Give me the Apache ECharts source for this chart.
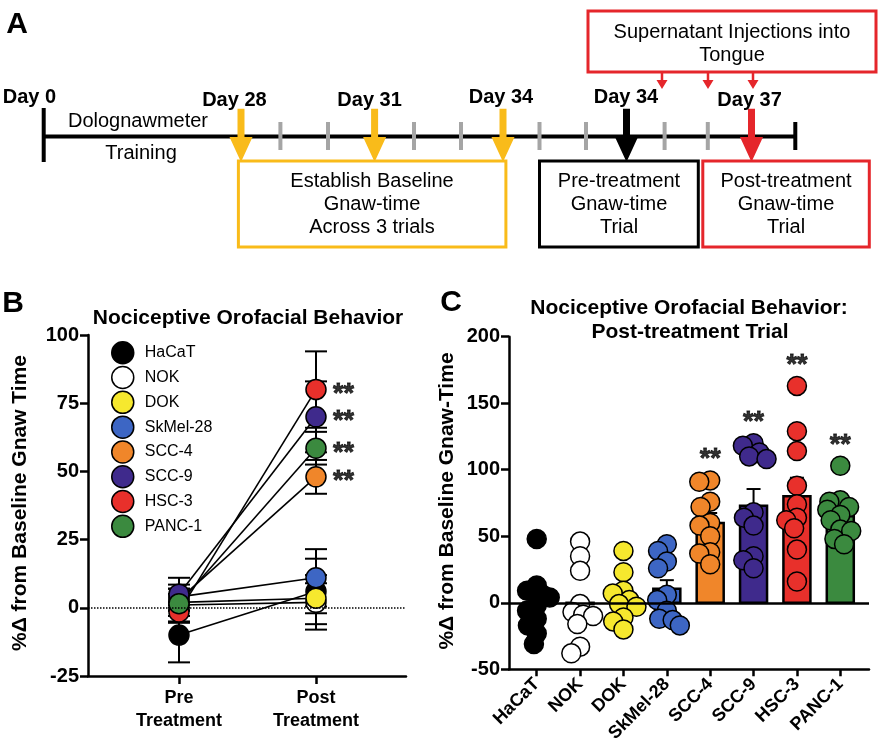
<!DOCTYPE html>
<html><head><meta charset="utf-8">
<script src="https://cdn.jsdelivr.net/npm/echarts@6/dist/echarts.min.js"></script>
<style>html,body{margin:0;padding:0;background:#fff}#c{width:879px;height:747px}</style>
</head><body><div id="c"></div>
<script>
// ---------- DATA ----------
const categories = ['HaCaT','NOK','DOK','SkMel-28','SCC-4','SCC-9','HSC-3','PANC-1'];
const fills = ['#000000','#ffffff','#f6e82e','#3d66c4','#f0862a','#3f2a8c','#e8302b','#3b8a3f'];
// Panel B (mean, SEM)
const preMean  = [-10, 1, 2, 4, 3, 5, -1.5, 1.5];
const preSem   = [10, 4, 3, 3, 4, 6, 3.5, 7];
const postMean = [6, 2, 3.5, 11, 48, 70, 80, 58.5];
const postSem  = [12, 10, 5.5, 10.5, 6.2, 13, 14, 6];
const significant = [false,false,false,false,true,true,true,true];
const bTimeLabels = ['Pre\nTreatment','Post\nTreatment'];
const bYTicks = [-25, 100, 25];
// Panel C (individual animals, mean, SEM)
const dotsHaCaT = [48, 13, 9, 6, 4, -2, -6, -12, -17, -23, -31];
const dotsNOK   = [46, 35, 24, -1, -7, -9, -10, -16, -33, -38];
const dotsDOK   = [39, 23, 9, 7, 2, -1, -3, -11, -14, -20];
const dotsSkMel = [44, 39, 31, 26, 6, 2, -6, -12, -13, -17];
const dotsSCC4  = [92, 91, 76, 72, 60, 58, 50, 38, 37, 29];
const dotsSCC9  = [120, 118, 113, 110, 108, 68, 64, 58, 35, 32, 26];
const dotsHSC3  = [163, 129, 114, 88, 74, 64, 62, 56, 40, 16];
const dotsPANC1 = [103, 77, 76, 72, 70, 66, 62, 55, 54, 48, 44];
const cMean = [-1, -1, 3, 10.5, 60, 73, 80, 65];
const cSem  = [7, 9, 6, 6.5, 7.5, 12.5, 14, 5];
const cYTicks = [-50, 200, 50];
// Panel A timeline text
const dayLabels = ['Day 0','Day 28','Day 31','Day 34','Day 34','Day 37'];
const boxTexts = [['Establish Baseline','Gnaw-time','Across 3 trials'],['Pre-treatment','Gnaw-time','Trial'],['Post-treatment','Gnaw-time','Trial']];
const injectionText = ['Supernatant Injections into','Tongue'];
const trainingText = ['Dolognawmeter','Training'];

// ---------- LAYOUT ----------
const FONT = "'Liberation Sans', Arial, Helvetica, sans-serif";
const allDots = [dotsHaCaT, dotsNOK, dotsDOK, dotsSkMel, dotsSCC4, dotsSCC9, dotsHSC3, dotsPANC1];
const C_PX_PER_CAT = 43.37, C_PX_PER_UNIT = 66.5/50, DOT = 19;

function swarm(values, minDist, maxOff){
  const placed = [], offs = [];
  values.forEach(v => {
    const y = v * C_PX_PER_UNIT;
    const cands = [0];
    placed.forEach(p => {
      const dy = Math.abs(p.y - y);
      if (dy < minDist) { const dx = Math.sqrt(minDist*minDist - dy*dy); cands.push(p.x + dx, p.x - dx); }
    });
    cands.sort((a,b) => Math.abs(a) - Math.abs(b) || a - b);
    let x = cands.find(c => placed.every(p => Math.hypot(p.x - c, p.y - y) >= minDist - 0.01));
    if (x === undefined) x = 0;
    x = Math.max(-maxOff, Math.min(maxOff, x));
    placed.push({x, y});
    offs.push(x / C_PX_PER_CAT);
  });
  return offs;
}

const chart = echarts.init(document.getElementById('c'), null, {renderer:'canvas'});

// Panel A graphics
const g = [];
const txt = (text, x, y, size, bold, extra) => Object.assign({type:'text', x, y, style:{text, fill:'#000', font:(bold?'bold ':'')+size+'px '+FONT, textAlign:'center', textVerticalAlign:'middle'}}, extra||{});
const lineEl = (x1,y1,x2,y2,color,w) => ({type:'line', shape:{x1,y1,x2,y2}, style:{stroke:color, lineWidth:w}});
const arrowEl = (x, yTop, yHead, yTip, sw, hw, color) => ({type:'polygon', shape:{points:[[x-sw/2,yTop],[x+sw/2,yTop],[x+sw/2,yHead],[x+hw/2,yHead],[x,yTip],[x-hw/2,yHead],[x-sw/2,yHead]]}, style:{fill:color}});
const rectEl = (x,y,w,h,color) => ({type:'rect', shape:{x,y,width:w,height:h}, style:{fill:'none', stroke:color, lineWidth:3}});
const YEL = '#f9bb1a', RED = '#e5262b', GRAY = '#a5a5a5';

g.push(txt('A', 17, 25, 30, true));
g.push(txt('B', 13, 304, 30, true));
g.push(txt('C', 451, 303, 30, true));
// injection box
g.push(rectEl(588, 11, 288, 61, RED));
g.push(txt(injectionText[0], 732, 32, 20, false));
g.push(txt(injectionText[1], 732, 55, 20, false));
[662, 708, 753].forEach(x => g.push(arrowEl(x, 72, 80, 89, 2.5, 11, RED)));
// timeline
g.push(lineEl(43.7, 136.5, 795.3, 136.5, '#000', 4));
g.push(lineEl(43.7, 108, 43.7, 162, '#000', 4));
g.push(lineEl(795.3, 122, 795.3, 150, '#000', 4));
[280.4, 328, 414, 461, 539.5, 586, 664.6, 707.8].forEach(x => g.push(lineEl(x, 122, x, 150, GRAY, 4)));
[241, 374.6, 503].forEach(x => g.push(arrowEl(x, 108.7, 137, 162, 7, 23, YEL)));
g.push(arrowEl(626.5, 108.7, 137, 162, 7, 23, '#000'));
g.push(arrowEl(751.5, 108.7, 137, 162, 7, 23, RED));
const dayX = [29.4, 234.4, 369.6, 501, 626, 749.6], dayY = [97, 100, 100, 97, 97, 100];
dayLabels.forEach((d,i) => g.push(txt(d, dayX[i], dayY[i], 20, true)));
g.push(txt(trainingText[0], 138, 121.5, 20, false));
g.push(txt(trainingText[1], 141, 153, 20, false));
// boxes
const boxes = [[238.4, 505.9, YEL, 372], [539.5, 698.3, '#000', 619], [702.8, 869.3, RED, 786]];
boxes.forEach((b,i) => {
  g.push(rectEl(b[0], 161, b[1]-b[0], 86, b[2]));
  boxTexts[i].forEach((t,j) => g.push(txt(t, b[3], 181.5 + j*23, 20, false)));
});
// titles
g.push(txt('Nociceptive Orofacial Behavior', 248, 318, 21, true));
g.push(txt('Nociceptive Orofacial Behavior:', 689, 308, 21, true));
g.push(txt('Post-treatment Trial', 690, 332, 21, true));
g.push(txt('%Δ from Baseline Gnaw Time', 20, 503, 21, true, {rotation: Math.PI/2}));
g.push(txt('%Δ from Baseline Gnaw-Time', 447, 501, 21, true, {rotation: Math.PI/2}));

const axisCommon = {
  axisLine:{show:true, onZero:false, lineStyle:{color:'#000', width:2.5}},
  splitLine:{show:false},
};
const yLabel = {color:'#000', fontWeight:'bold', fontSize:20, fontFamily:FONT, margin:9};
const starLabel = {show:true, formatter:'**', color:'#000', fontWeight:'bold', fontSize:27, fontFamily:FONT, textBorderColor:'#000', textBorderWidth:0.8};

function errRender(both, cw){
  return function(params, api){
    const x = api.value(0), m = api.value(1), s = api.value(2);
    const hi = (both || m >= 0) ? m + s : m;
    const lo = both ? m - s : (m >= 0 ? m : m - s);
    const a = api.coord([x, lo]), b = api.coord([x, hi]);
    const st = {stroke:'#000', lineWidth:2};
    const ch = [{type:'line', shape:{x1:a[0],y1:a[1],x2:b[0],y2:b[1]}, style:st}];
    if (both || m < 0) ch.push({type:'line', shape:{x1:a[0]-cw,y1:a[1],x2:a[0]+cw,y2:a[1]}, style:st});
    if (both || m >= 0) ch.push({type:'line', shape:{x1:b[0]-cw,y1:b[1],x2:b[0]+cw,y2:b[1]}, style:st});
    return {type:'group', children:ch};
  };
}

const series = [];
// Panel B: connecting lines
categories.forEach((c,i) => series.push({type:'line', xAxisIndex:0, yAxisIndex:0, data:[[0,preMean[i]],[1,postMean[i]]], showSymbol:false, symbol:'none', silent:true, lineStyle:{color:'#000', width:1.6}, z:1,
  markLine: i===0 ? {silent:true, symbol:'none', label:{show:false}, lineStyle:{type:'dotted', color:'#000', width:1.5}, data:[{yAxis:0}]} : undefined}));
// Panel B: error bars
const bErr = [];
categories.forEach((c,i) => { bErr.push([0, preMean[i], preSem[i]]); bErr.push([1, postMean[i], postSem[i]]); });
series.push({type:'custom', xAxisIndex:0, yAxisIndex:0, data:bErr, renderItem:errRender(true, 11), z:2, silent:true});
// Panel B: points
categories.forEach((c,i) => series.push({type:'scatter', name:c, xAxisIndex:0, yAxisIndex:0, data:[[0,preMean[i]],[1,postMean[i]]], symbolSize:20,
  itemStyle:{color:fills[i], borderColor:'#000', borderWidth:1.5, opacity:1}, z:3}));
// Panel B: stars
series.push({type:'scatter', xAxisIndex:0, yAxisIndex:0, symbolSize:0, silent:true, z:4,
  data: categories.map((c,i)=> significant[i] ? [1, postMean[i]] : null).filter(d=>d),
  label:Object.assign({position:'right', distance:17, offset:[0,5]}, starLabel)});

// Panel C: bars
series.push({type:'custom', xAxisIndex:1, yAxisIndex:1, z:2, silent:true, data:cMean.map((m,i)=>[i,m]),
  renderItem:function(params, api){
    const x = api.value(0), m = api.value(1);
    const p0 = api.coord([x,0]), p1 = api.coord([x,m]); const w = 27;
    return {type:'rect', shape:{x:p0[0]-w/2, y:Math.min(p0[1],p1[1]), width:w, height:Math.abs(p1[1]-p0[1])},
      style:{fill:fills[params.dataIndex], stroke:'#000', lineWidth:2.5}};
  },
  markLine:{silent:true, symbol:'none', label:{show:false}, lineStyle:{type:'solid', color:'#000', width:2.5}, data:[{yAxis:0}]}});
// Panel C: error bars
series.push({type:'custom', xAxisIndex:1, yAxisIndex:1, z:3, silent:true, data:cMean.map((m,i)=>[i,m,cSem[i]]), renderItem:errRender(false, 7)});
// Panel C: dots
allDots.forEach((vals,i) => {
  const offs = swarm(vals, 11, 13);
  series.push({type:'scatter', name:'C '+categories[i], xAxisIndex:1, yAxisIndex:1, z:4, symbolSize:DOT,
    data: vals.map((v,k)=>[i + offs[k], v]),
    itemStyle:{color:fills[i], borderColor:'#000', borderWidth:1.5, opacity:1}});
});
// Panel C: stars
series.push({type:'scatter', xAxisIndex:1, yAxisIndex:1, symbolSize:0, silent:true, z:5,
  data: allDots.map((v,i)=> significant[i] ? [i, Math.max(...v) + 20] : null).filter(d=>d),
  label:Object.assign({position:'inside', offset:[0,6]}, starLabel)});

const option = {
  animation:false,
  backgroundColor:'#fff',
  textStyle:{fontFamily:FONT},
  graphic:g,
  legend:{data:categories, orient:'vertical', left:111, top:341, itemWidth:22, itemHeight:22, itemGap:1.3, padding:0, icon:'circle',
    itemStyle:{borderColor:'#000', borderWidth:1.5},
    textStyle:{fontSize:16, color:'#000', fontFamily:FONT, padding:[0,0,0,6]}, selectedMode:false},
  grid:[
    {left:88, right:473, top:335, bottom:71},
    {left:509, right:10, top:336.7, bottom:77.7}
  ],
  xAxis:[
    Object.assign({gridIndex:0, type:'value', min:-0.664, max:1.657,
      axisTick:{show:true, customValues:[0,1], length:8, lineStyle:{color:'#000', width:2.5}},
      axisLabel:{customValues:[0,1], formatter:v=>bTimeLabels[Math.round(v)], color:'#000', fontWeight:'bold', fontSize:18, fontFamily:FONT, lineHeight:23, margin:11}}, axisCommon),
    Object.assign({gridIndex:1, type:'value', min:-0.639, max:7.662,
      axisTick:{show:true, customValues:[0,1,2,3,4,5,6,7], length:7, lineStyle:{color:'#000', width:2.5}},
      axisLabel:{customValues:[0,1,2,3,4,5,6,7], formatter:v=>categories[Math.round(v)], rotate:45, color:'#000', fontWeight:'bold', fontSize:18, fontFamily:FONT, margin:12}}, axisCommon)
  ],
  yAxis:[
    Object.assign({gridIndex:0, type:'value', min:bYTicks[0], max:bYTicks[1], interval:bYTicks[2],
      axisTick:{show:true, length:8, lineStyle:{color:'#000', width:2.5}}, axisLabel:yLabel}, axisCommon),
    Object.assign({gridIndex:1, type:'value', min:cYTicks[0], max:cYTicks[1], interval:cYTicks[2],
      axisTick:{show:true, length:8, lineStyle:{color:'#000', width:2.5}}, axisLabel:yLabel}, axisCommon)
  ],
  series
};
chart.setOption(option);
</script></body></html>
